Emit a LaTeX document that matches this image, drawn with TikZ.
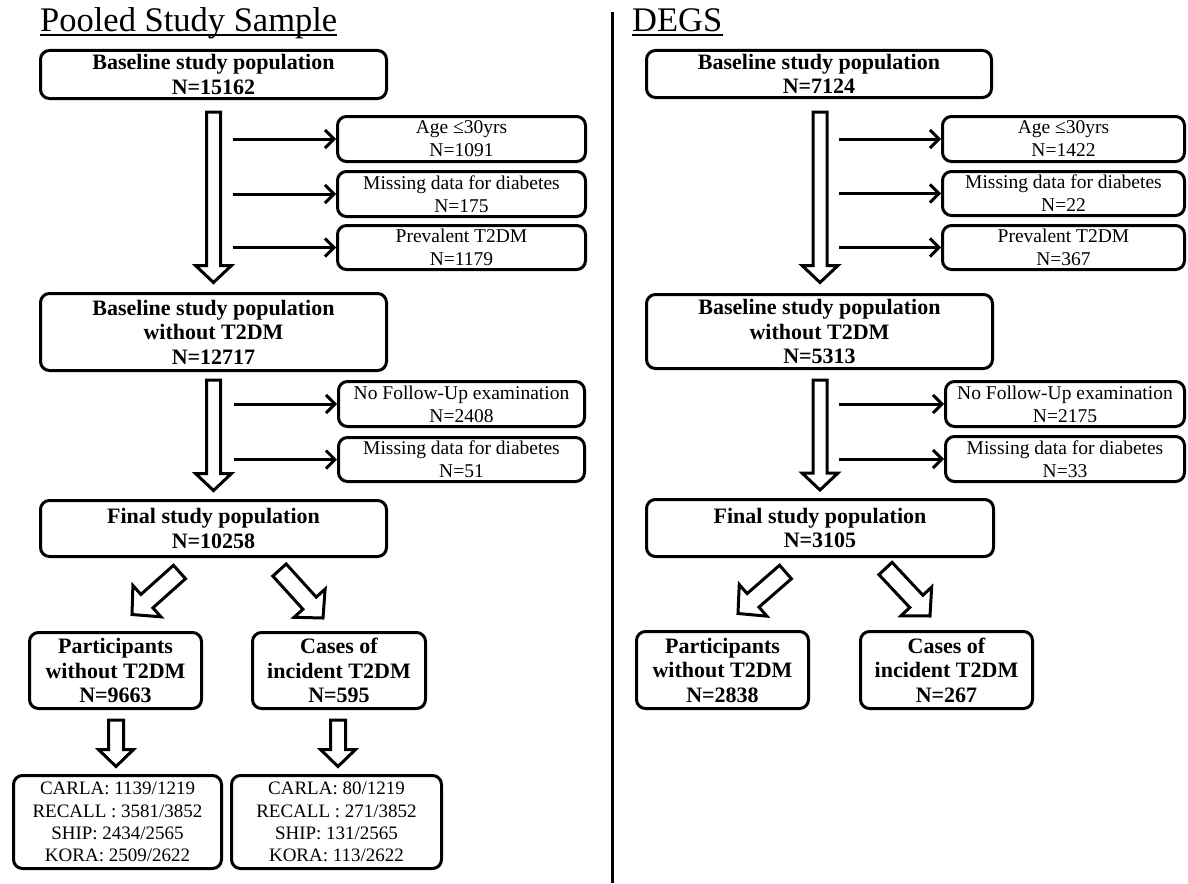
\documentclass[tikz,border=0pt]{standalone}
\usepackage{fontspec}
\setmainfont{Liberation Serif}
\usetikzlibrary{calc,arrows.meta}
\tikzset{
  box/.style={draw, line width=3pt, rounded corners=9pt, align=center, inner sep=0pt, fill=white},
  bbox/.style={box, font=\fontsize{22}{24.5}\selectfont\bfseries},
  sbox/.style={box, font=\fontsize{19.5}{23}\selectfont},
  cbox/.style={box, font=\fontsize{19}{22.3}\selectfont},
  side/.style={line width=3pt, -{Straight Barb[length=9pt,width=18pt]}},
  fat/.style={draw, line width=3pt, line join=miter, fill=white},
  ttl/.style={anchor=base west, inner sep=0pt, font=\fontsize{34.5}{40}\selectfont},
  uline/.style={line width=1.6pt},
  sep/.style={line width=3pt}
}
% #1 tail, #2 tip, #3 shaft half width, #4 head half width, #5 head length
\newcommand\fatarrow[5]{%
  \coordinate (fah) at ($(#2)!#5!(#1)$);
  \draw[fat] ($(#1)!#3!90:(#2)$) -- ($(fah)!#3!90:(#2)$) -- ($(fah)!#4!90:(#2)$) -- (#2)
    -- ($(fah)!#4!-90:(#2)$) -- ($(fah)!#3!-90:(#2)$) -- ($(#1)!#3!-90:(#2)$) -- cycle;}
\begin{document}
\begin{tikzpicture}[x=1pt,y=-1pt]
\useasboundingbox (0,0) rectangle (1188,883);

% ---------- titles and separator
\node[ttl] (t1) at (40,32) {Pooled Study Sample};
\draw[uline] ($(t1.base west)+(0,3)$) -- ($(t1.base east)+(0,3)$);
\node[ttl] (t2) at (632,32) {DEGS};
\draw[uline] ($(t2.base west)+(0,3)$) -- ($(t2.base east)+(0,3)$);
\coordinate (sepA) at (612.5,12);
\coordinate (sepB) at (612.5,883);
\draw[sep] (sepA) -- (sepB);

% ---------- left column
\node[bbox, minimum width=346pt, minimum height=48pt] (A1) at (213.5,74.5) {Baseline study population\\N=15162};
\node[sbox, minimum width=248pt, minimum height=45pt] (S1) at (461.5,139) {Age ≤30yrs\\N=1091};
\node[sbox, minimum width=248pt, minimum height=45pt] (S2) at (461.5,194) {Missing data for diabetes\\N=175};
\node[sbox, minimum width=248pt, minimum height=44pt] (S3) at (461.5,247.5) {Prevalent T2DM\\N=1179};
\node[bbox, minimum width=346pt, minimum height=77pt] (A2) at (213.5,332) {Baseline study population\\without T2DM\\N=12717};
\node[sbox, minimum width=246pt, minimum height=45pt] (S4) at (461.5,404) {No Follow-Up examination\\N=2408};
\node[sbox, minimum width=246pt, minimum height=44pt] (S5) at (461.5,459.5) {Missing data for diabetes\\N=51};
\node[bbox, minimum width=346pt, minimum height=56pt] (A3) at (213.5,528.5) {Final study population\\N=10258};
\node[bbox, minimum width=172pt, minimum height=76pt] (B1) at (115.5,670.5) {Participants\\without T2DM\\N=9663};
\node[bbox, minimum width=173pt, minimum height=76pt] (B2) at (339,670.5) {Cases of\\incident T2DM\\N=595};
\node[cbox, minimum width=208pt, minimum height=93pt] (C1) at (117.5,822) {CARLA: 1139/1219\\RECALL : 3581/3852\\SHIP: 2434/2565\\KORA: 2509/2622};
\node[cbox, minimum width=210pt, minimum height=93pt] (C2) at (336.5,822) {CARLA: 80/1219\\RECALL : 271/3852\\SHIP: 131/2565\\KORA: 113/2622};

% hollow arrows, left
\coordinate (a1t) at ($(A1.south)+(0,12)$);
\coordinate (a1h) at ($(A2.north)+(0,-9.5)$);
\fatarrow{a1t}{a1h}{7pt}{18pt}{17pt}
\coordinate (a2t) at ($(A2.south)+(0,8)$);
\coordinate (a2h) at ($(A3.north)+(0,-8.5)$);
\fatarrow{a2t}{a2h}{7pt}{18pt}{17pt}
\coordinate (d1t) at ($(A3.south)+(-34,14)$);
\coordinate (d1h) at ($(B1.north)+(16.5,-16.5)$);
\fatarrow{d1t}{d1h}{9pt}{21pt}{20pt}
\coordinate (d2t) at ($(A3.south)+(66,12)$);
\coordinate (d2h) at ($(B2.north)+(-16,-13)$);
\fatarrow{d2t}{d2h}{9pt}{21pt}{20pt}
\coordinate (b1t) at ($(B1.south)+(0.5,10)$);
\coordinate (b1h) at ($(C1.north)+(-1.5,-7.5)$);
\fatarrow{b1t}{b1h}{7.5pt}{17.5pt}{17pt}
\coordinate (b2t) at ($(B2.south)+(-1,10)$);
\coordinate (b2h) at ($(C2.north)+(1.5,-7.5)$);
\fatarrow{b2t}{b2h}{7.5pt}{17.5pt}{17pt}

% side arrows, left
\coordinate (s1a) at ($(S1.west)+(-103.5,0)$);
\coordinate (s2a) at ($(S2.west)+(-103.5,0)$);
\coordinate (s3a) at ($(S3.west)+(-103.5,0)$);
\coordinate (s4a) at ($(S4.west)+(-103.5,0)$);
\coordinate (s5a) at ($(S5.west)+(-103.5,0)$);
\draw[side] (s1a) -- (S1.west);
\draw[side] (s2a) -- (S2.west);
\draw[side] (s3a) -- (S3.west);
\draw[side] (s4a) -- (S4.west);
\draw[side] (s5a) -- (S5.west);

% ---------- right column
\node[bbox, minimum width=345pt, minimum height=47pt] (R1) at (819,74) {Baseline study population\\N=7124};
\node[sbox, minimum width=242pt, minimum height=45pt] (RS1) at (1063.5,139) {Age ≤30yrs\\N=1422};
\node[sbox, minimum width=242pt, minimum height=44pt] (RS2) at (1063.5,193.5) {Missing data for diabetes\\N=22};
\node[sbox, minimum width=242pt, minimum height=44pt] (RS3) at (1063.5,247.5) {Prevalent T2DM\\N=367};
\node[bbox, minimum width=346pt, minimum height=74pt] (R2) at (819.5,331.5) {Baseline study population\\without T2DM\\N=5313};
\node[sbox, minimum width=239pt, minimum height=45pt] (RS4) at (1065,404) {No Follow-Up examination\\N=2175};
\node[sbox, minimum width=239pt, minimum height=45pt] (RS5) at (1065,459) {Missing data for diabetes\\N=33};
\node[bbox, minimum width=347pt, minimum height=57pt] (R3) at (820,528) {Final study population\\N=3105};
\node[bbox, minimum width=172pt, minimum height=77pt] (R4) at (722.5,670) {Participants\\without T2DM\\N=2838};
\node[bbox, minimum width=172pt, minimum height=77pt] (R5) at (946.5,670) {Cases of\\incident T2DM\\N=267};

% hollow arrows, right
\coordinate (r1t) at ($(R1.south)+(1,13)$);
\coordinate (r1h) at ($(R2.north)+(0.5,-10.5)$);
\fatarrow{r1t}{r1h}{7pt}{18pt}{17pt}
\coordinate (r2t) at ($(R2.south)+(0.5,10)$);
\coordinate (r2h) at ($(R3.north)+(0,-8)$);
\fatarrow{r2t}{r2h}{7pt}{18pt}{17pt}
\coordinate (e1t) at ($(R3.south)+(-34.5,14)$);
\coordinate (e1h) at ($(R4.north)+(15.5,-16.5)$);
\fatarrow{e1t}{e1h}{9pt}{21pt}{20pt}
\coordinate (e2t) at ($(R3.south)+(65.5,10.5)$);
\coordinate (e2h) at ($(R5.north)+(-16.5,-14)$);
\fatarrow{e2t}{e2h}{9pt}{21pt}{20pt}

% side arrows, right
\coordinate (rs1a) at ($(RS1.west)+(-102.5,0)$);
\coordinate (rs2a) at ($(RS2.west)+(-102.5,0)$);
\coordinate (rs3a) at ($(RS3.west)+(-102.5,0)$);
\coordinate (rs4a) at ($(RS4.west)+(-105.5,0)$);
\coordinate (rs5a) at ($(RS5.west)+(-105.5,0)$);
\draw[side] (rs1a) -- (RS1.west);
\draw[side] (rs2a) -- (RS2.west);
\draw[side] (rs3a) -- (RS3.west);
\draw[side] (rs4a) -- (RS4.west);
\draw[side] (rs5a) -- (RS5.west);
\end{tikzpicture}
\end{document}
